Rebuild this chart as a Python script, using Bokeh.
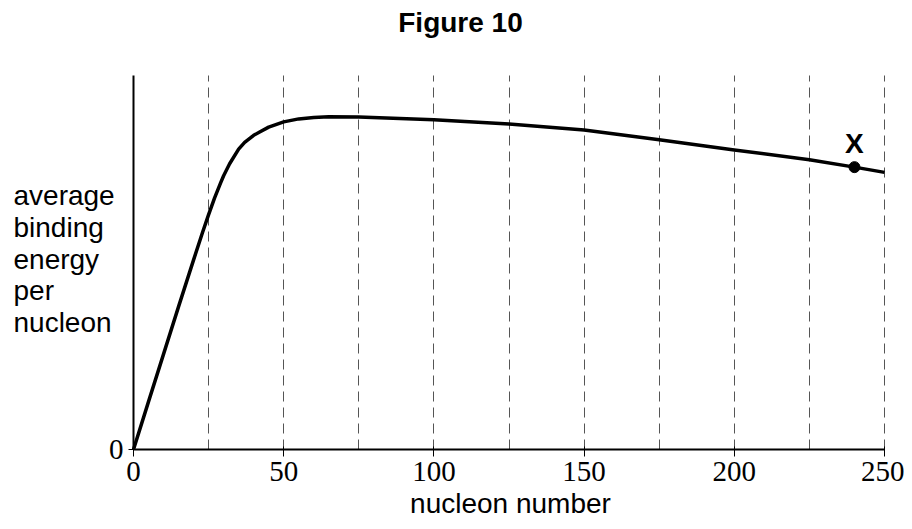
from bokeh.plotting import figure
from bokeh.models import Label, FixedTicker, Range1d
from bokeh.embed import file_html
from bokeh.resources import INLINE

# ---- data ----
nucleon = [0, 5, 10, 15, 20, 23, 25, 27, 29, 30, 32, 35, 37, 40, 42, 45, 50,
           55, 60, 65, 75, 100, 125, 150, 175, 200, 225, 240, 250]
energy = [0, 1.28, 2.55, 3.82, 5.07, 5.81, 6.28, 6.73, 7.13, 7.32, 7.64, 8.03,
          8.21, 8.40, 8.49, 8.62, 8.76, 8.84, 8.88, 8.90, 8.89, 8.82, 8.70,
          8.54, 8.28, 8.01, 7.75, 7.55, 7.41]
x_ticks = [0, 50, 100, 150, 200, 250]
grid_ticks = [25, 50, 75, 100, 125, 150, 175, 200, 225, 250]
y_ticks = [0]
x_limits = (0, 250)
y_limits = (0, 10)
marker_x = [240]
marker_y = [7.55]
marker_text = "X"
title_text = "Figure 10"
ylabel_lines = ["average", "binding", "energy", "per", "nucleon"]
xlabel_text = "nucleon number"

SANS = "Liberation Sans"
SERIF = "Liberation Serif"

# canvas geometry (pixels)
W, H = 904, 521
X0_PX, PX_PER_X = 133, 3.004      # screen x of nucleon 0, pixels per unit
Y0_PX, PX_PER_Y = 449, 37.4       # screen y of energy 0, pixels per unit
SHIFT = 10                         # label baseline correction (pixels)

p = figure(frame_width=W, frame_height=H, title=None,
           x_range=Range1d(-X0_PX / PX_PER_X, (W - X0_PX) / PX_PER_X),
           y_range=Range1d(-(H - Y0_PX) / PX_PER_Y, Y0_PX / PX_PER_Y),
           output_backend="svg", toolbar_location=None,
           min_border=0, min_border_left=0, min_border_right=0,
           min_border_top=0, min_border_bottom=0,
           background_fill_color="white", border_fill_color="white")
p.outline_line_color = None

# axes, pinned at the origin and limited to the data extent
for ax in (p.xaxis[0], p.yaxis[0]):
    ax.fixed_location = 0
    ax.axis_line_color = "black"
    ax.axis_line_width = 2
    ax.major_tick_line_color = "black"
    ax.major_tick_line_width = 1
    ax.minor_tick_line_color = None
    ax.major_label_text_font = SERIF
    ax.major_label_text_font_size = "29px"
    ax.major_label_text_color = "black"

p.xaxis.bounds = x_limits
p.xaxis.ticker = FixedTicker(ticks=x_ticks)
p.xaxis.major_tick_in = 3
p.xaxis.major_tick_out = 7
p.xaxis.major_label_standoff = 5

p.yaxis.bounds = y_limits
p.yaxis.ticker = FixedTicker(ticks=y_ticks)
p.yaxis.major_tick_in = 0
p.yaxis.major_tick_out = 5
p.yaxis.major_label_standoff = 5

# dashed vertical guide lines
p.xgrid.ticker = FixedTicker(ticks=grid_ticks)
p.xgrid.cross_bounds = y_limits
p.xgrid.grid_line_color = "#555555"
p.xgrid.grid_line_width = 1
p.xgrid.grid_line_dash = "10 6"
p.ygrid.grid_line_color = None

# curve and point X
p.line(nucleon, energy, line_width=3.5, line_color="black", line_join="round")
p.scatter(marker_x, marker_y, size=11, color="black")

p.add_layout(Label(x=marker_x[0], y=marker_y[0], y_offset=14 + SHIFT,
                   text=marker_text, text_align="center",
                   text_baseline="alphabetic", text_font=SANS,
                   text_font_style="bold", text_font_size="28px",
                   text_color="black"))

# title
p.add_layout(Label(x=0, y=0, x_offset=327, y_offset=Y0_PX - 32 + SHIFT,
                   text=title_text, text_align="center",
                   text_baseline="alphabetic", text_font=SANS,
                   text_font_style="bold", text_font_size="28px",
                   text_color="black"))

# y label (stacked lines)
first_baseline, line_step = 205, 31.8
for i, t in enumerate(ylabel_lines):
    p.add_layout(Label(x=0, y=0, x_offset=13 - X0_PX,
                       y_offset=Y0_PX - (first_baseline + line_step * i) + SHIFT,
                       text=t, text_align="left", text_baseline="alphabetic",
                       text_font=SANS, text_font_size="28px", text_color="black"))

# x label
p.add_layout(Label(x=0, y=0, x_offset=510 - X0_PX, y_offset=Y0_PX - 513 + SHIFT,
                   text=xlabel_text, text_align="center",
                   text_baseline="alphabetic", text_font=SANS,
                   text_font_size="28px", text_color="black"))

open("out.html", "w").write(file_html(p, INLINE))
